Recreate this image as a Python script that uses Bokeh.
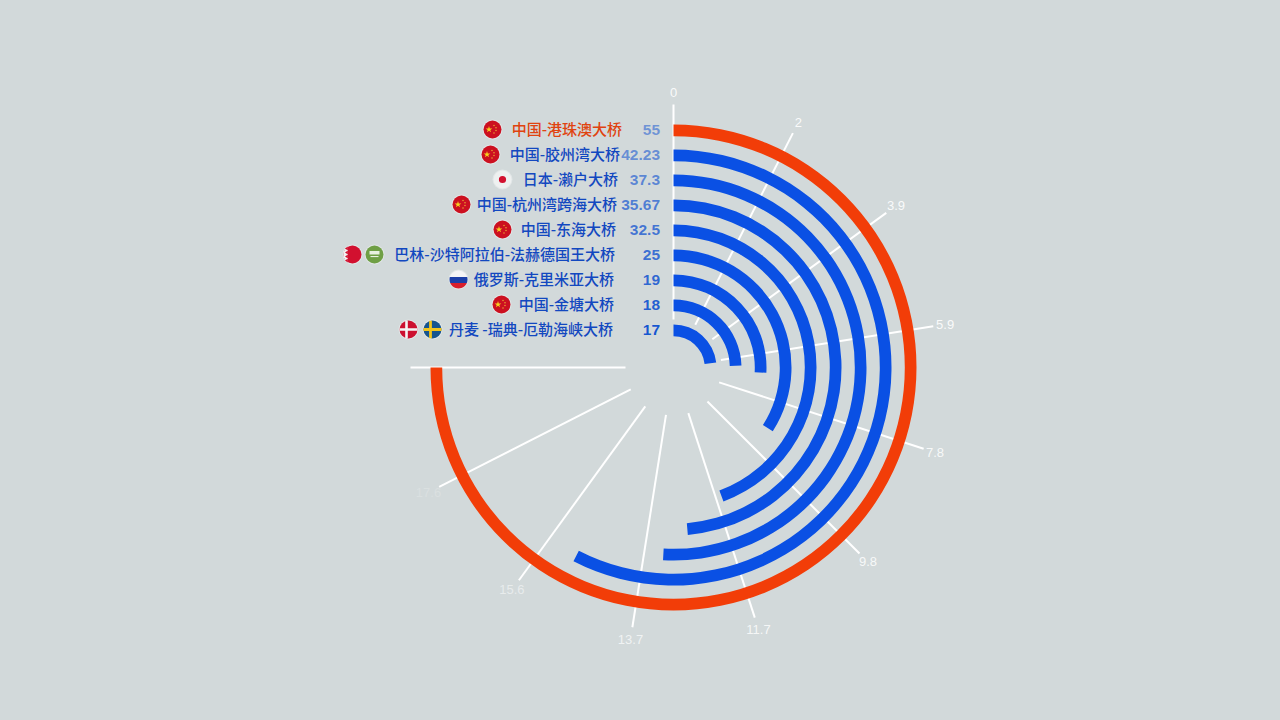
import numpy as np
from bokeh.core.properties import value
from bokeh.embed import file_html
from bokeh.plotting import figure
from bokeh.resources import INLINE

# data
bridges = ['中国-港珠澳大桥', '中国-胶州湾大桥', '日本-濑户大桥', '中国-杭州湾跨海大桥', '中国-东海大桥',
           '巴林-沙特阿拉伯-法赫德国王大桥', '俄罗斯-克里米亚大桥', '中国-金塘大桥', '丹麦 -瑞典-厄勒海峡大桥']
lengths = [55, 42.23, 37.3, 35.67, 32.5, 25, 19, 18, 17]
value_labels = ['55', '42.23', '37.3', '35.67', '32.5', '25', '19', '18', '17']
flags = [['cn'], ['cn'], ['jp'], ['cn'], ['cn'], ['bh', 'sa'], ['ru'], ['cn'], ['dk', 'se']]
tick_labels = ['0', '2', '3.9', '5.9', '7.8', '9.8', '11.7', '13.7', '15.6', '17.6']

# layout, in page pixels
CX, CY = 673, 367
BG = '#d2d9da'
ORANGE = '#f23d08'
BLUE = '#0a50e4'
label_right = [621.5, 619.5, 617.5, 616.5, 615.5, 614.5, 613.5, 613.5, 612.5]
flag_x = [[492], [490], [502], [461], [502], [352, 374], [458], [501], [408, 432]]
tick_alpha = [0.9, 0.9, 0.9, 0.9, 0.85, 0.85, 0.8, 0.7, 0.5, 0.2]

p = figure(width=1264, height=704, x_range=(-CX, 1264 - CX), y_range=(CY - 704, CY),
           output_backend="svg", toolbar_location=None, x_axis_type=None, y_axis_type=None,
           min_border=0, outline_line_color=None,
           background_fill_color=BG, border_fill_color=BG)
p.grid.visible = False

# spokes and their labels, evenly spaced over the 270 degrees
th = np.radians(np.arange(len(tick_labels) + 1) * 270 / len(tick_labels))
p.segment(x0=48 * np.sin(th), y0=48 * np.cos(th), x1=263 * np.sin(th), y1=263 * np.cos(th),
          line_color='white', line_width=2)
th = th[:-1]
p.text(x=275 * np.sin(th), y=275 * np.cos(th), text=tick_labels, text_color='white', text_alpha=tick_alpha,
       text_font=value('Liberation Sans'), text_font_size='13px', text_align='center', text_baseline='middle')

# arcs
radii = 237 - 25 * np.arange(len(lengths))
colors = [ORANGE] + [BLUE] * (len(lengths) - 1)
ends = np.pi / 2 - np.array(lengths) / max(lengths) * 1.5 * np.pi
p.annular_wedge(x=0, y=0, inner_radius=radii - 5.7, outer_radius=radii + 6, start_angle=np.pi / 2,
                end_angle=ends, direction='clock', fill_color=colors, line_color=None)

# names and values
text_colors = ['#e0430f'] + ['#1248c0'] * (len(lengths) - 1)
p.text(x=np.array(label_right) - CX, y=radii + 2, text=bridges, text_color=text_colors,
       text_font=value('Noto Sans CJK SC Medium'), text_font_size='15px', text_align='right', text_baseline='middle')
value_alpha = 0.5 + 0.055 * np.arange(len(lengths))
p.text(x=-13.5, y=radii + 1, text=value_labels, text_color='#0a4fd0', text_alpha=value_alpha,
       text_font=value('Liberation Sans'), text_font_style='bold', text_font_size='15.5px',
       text_align='right', text_baseline='middle')


def band(cx, cy, r, a, b, axis='y'):
    # part of a disk between two offsets along one axis
    u = np.linspace(a, b, 12)
    w = np.sqrt(np.maximum(r ** 2 - u ** 2, 0))
    along = np.concatenate([u, u[::-1]])
    across = np.concatenate([w, -w[::-1]])
    if axis == 'y':
        return cx + across, cy + along
    return cx + along, cy + across


def disk(cx, cy, color, r=9):
    p.circle(x=[cx], y=[cy], radius=10, fill_color='white', fill_alpha=0.35, line_color=None)
    p.circle(x=[cx], y=[cy], radius=r, fill_color=color, line_color=None)


def draw_flag(code, cx, cy):
    if code == 'cn':
        disk(cx, cy, '#cc1020')
        p.scatter(x=[cx - 3.5], y=[cy], marker='star', size=7, fill_color='#f6d21e', line_color=None)
        p.scatter(x=[cx + 1.5, cx + 3.5, cx + 3.5, cx + 1.5], y=[cy + 4, cy + 1.8, cy - 1, cy - 3.5], marker='circle',
                  size=1.6, fill_color='#e8a030', line_color=None)
    elif code == 'jp':
        disk(cx, cy, '#eef0f0')
        p.circle(x=[cx], y=[cy], radius=3.6, fill_color='#d2102f', line_color=None)
    elif code == 'bh':
        disk(cx, cy, '#d2102f')
        xs, ys = band(cx, cy, 9, -9, -4.5, 'x')
        p.patch(xs, ys, fill_color='#f2f2f2', line_color=None)
        for dy in [-6, -2, 2, 6]:
            p.patch([cx - 4.6, cx - 7.5, cx - 4.6], [cy + dy + 2, cy + dy, cy + dy - 2], fill_color='#d2102f', line_color=None)
    elif code == 'sa':
        disk(cx, cy, '#6f9f45')
        p.quad(left=cx - 5, right=cx + 5, top=cy + 3.5, bottom=cy, fill_color='#e8f0e0', line_color=None)
        p.quad(left=cx - 4, right=cx + 4, top=cy - 1.5, bottom=cy - 2.6, fill_color='#e8f0e0', line_color=None)
    elif code == 'ru':
        disk(cx, cy, '#f4f4f6')
        xs, ys = band(cx, cy, 9, -3.5, 2.5)
        p.patch(xs, ys, fill_color='#1c3fa8', line_color=None)
        xs, ys = band(cx, cy, 9, -9, -3.5)
        p.patch(xs, ys, fill_color='#d81e2c', line_color=None)
    elif code == 'dk':
        disk(cx, cy, '#cc1030')
        for xs, ys in [band(cx, cy, 9, -1.3, 1.3), band(cx - 2, cy, 8.8, -1.3, 1.3, 'x')]:
            p.patch(xs, ys, fill_color='#f4f4f4', line_color=None)
    elif code == 'se':
        disk(cx, cy, '#16558f')
        for xs, ys in [band(cx, cy, 9, -1.4, 1.4), band(cx - 2, cy, 8.8, -1.4, 1.4, 'x')]:
            p.patch(xs, ys, fill_color='#f0c41e', line_color=None)


for codes, xs, r in zip(flags, flag_x, radii):
    for code, x in zip(codes, xs):
        draw_flag(code, x - CX, r + 1)

# page colour has to match the figure
html = file_html(p, INLINE)
html = html.replace('<head>', '<head><style>html,body{background:%s}</style>' % BG, 1)
open("out.html", "w", encoding="utf-8").write(html)
